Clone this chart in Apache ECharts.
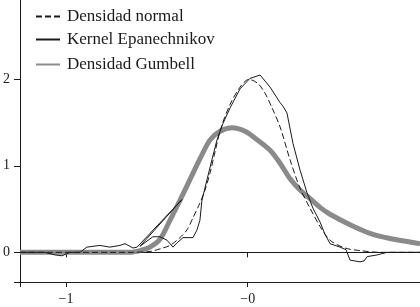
<!DOCTYPE html>
<html>
<head>
<meta charset="utf-8">
<script src="https://cdn.jsdelivr.net/npm/echarts@6/dist/echarts.min.js"></script>
<style>
  html, body { margin: 0; padding: 0; background: #fff; }
  #chart { width: 420px; height: 307px; }
</style>
</head>
<body>
<div id="chart"></div>
<script>
// values (x, density)
const normalX = [-1.253, -0.648, -0.538, -0.483, -0.428, -0.373, -0.334, -0.301, -0.263, -0.235, -0.207, -0.180, -0.147, -0.097, -0.042, 0.007, 0.057, 0.095, 0.134, 0.178, 0.233, 0.288, 0.343, 0.398, 0.453, 0.535, 0.618, 0.728, 0.948];
const normalY = [0, 0, 0.01, 0.04, 0.08, 0.17, 0.26, 0.40, 0.57, 0.72, 0.92, 1.16, 1.44, 1.71, 1.91, 2.00, 1.95, 1.84, 1.67, 1.45, 1.07, 0.74, 0.51, 0.30, 0.14, 0.05, 0.02, 0, 0];

const kernelX = [-1.253, -1.116, -1.061, -1.022, -1.000, -0.978, -0.923, -0.885, -0.813, -0.758, -0.703, -0.675, -0.631, -0.609, -0.362, -0.593, -0.522, -0.483, -0.444, -0.411, -0.389, -0.356, -0.301, -0.279, -0.263, -0.252, -0.224, -0.197, -0.169, -0.136, -0.097, -0.042, 0.012, 0.068, 0.123, 0.178, 0.194, 0.216, 0.249, 0.288, 0.326, 0.359, 0.398, 0.425, 0.453, 0.508, 0.541, 0.563, 0.618, 0.640, 0.657, 0.712, 0.767, 0.838, 0.948];
const kernelY = [0, 0, -0.03, -0.04, -0.02, 0, 0, 0.06, 0.08, 0.06, 0.08, 0.10, 0.05, 0.06, 0.61, 0.07, 0.18, 0.18, 0.14, 0.06, 0.11, 0.17, 0.17, 0.26, 0.37, 0.60, 0.84, 1.07, 1.30, 1.49, 1.67, 1.89, 2.01, 2.05, 1.91, 1.73, 1.69, 1.61, 1.26, 0.95, 0.69, 0.51, 0.35, 0.21, 0.10, 0.06, 0.03, -0.09, -0.11, -0.10, -0.05, -0.03, 0, 0, 0];

const gumbelX = [-1.253, -0.648, -0.593, -0.538, -0.483, -0.428, -0.373, -0.318, -0.263, -0.207, -0.152, -0.086, -0.015, 0.040, 0.123, 0.178, 0.233, 0.288, 0.343, 0.398, 0.453, 0.563, 0.673, 0.783, 0.893, 0.948];
const gumbelY = [0, 0, 0.02, 0.06, 0.15, 0.37, 0.60, 0.84, 1.08, 1.30, 1.40, 1.44, 1.40, 1.32, 1.18, 1.03, 0.85, 0.72, 0.62, 0.52, 0.44, 0.32, 0.22, 0.16, 0.12, 0.10];

const xTickLabels = [-1, 0];
const yTickLabels = [0, 1, 2];
const names = ['Densidad normal', 'Kernel Epanechnikov', 'Densidad Gumbell'];

const xMin = -1.253, xMax = 0.948;
const yMin = -0.343, yMax = 2.917;

const serif = 'Liberation Serif';
const ink = '#1a1a1a';
const grey = '#8a8a8a';

let myChart = echarts.init(document.getElementById('chart'));

const legendItem = (name, top) => ({
  data: [name],
  left: 35,
  top: top,
  padding: 0,
  itemWidth: 24,
  itemHeight: 14,
  selectedMode: false,
  itemStyle: { opacity: 0 },
  textStyle: { fontFamily: serif, fontSize: 17, color: ink, padding: [0, 0, 0, 2] }
});

const option = {
  animation: false,
  backgroundColor: '#fff',
  grid: { left: 20, right: 0, top: 0, bottom: 25, outerBoundsMode: 'none' },
  legend: [
    legendItem(names[0], 8),
    legendItem(names[1], 31),
    legendItem(names[2], 56)
  ],
  xAxis: [{
    type: 'value',
    min: xMin,
    max: xMax,
    position: 'bottom',
    axisLine: { onZero: false, lineStyle: { color: ink, width: 1 } },
    axisTick: { length: 5, customValues: [xMin].concat(xTickLabels), lineStyle: { color: ink } },
    axisLabel: {
      customValues: xTickLabels,
      margin: 10,
      fontFamily: serif,
      fontSize: 14,
      color: ink,
      formatter: function (v) {
        return '\u2212' + Math.abs(Math.round(v));
      }
    },
    splitLine: { show: false }
  }, {
    // zero line across the plot
    type: 'value',
    min: xMin,
    max: xMax,
    position: 'top',
    axisLine: { onZero: true, lineStyle: { color: ink, width: 1 } },
    axisTick: { inside: true, length: 5, customValues: xTickLabels, lineStyle: { color: ink } },
    axisLabel: { show: false },
    splitLine: { show: false }
  }],
  yAxis: [{
    type: 'value',
    min: yMin,
    max: yMax,
    axisLine: { onZero: false, lineStyle: { color: ink, width: 1 } },
    axisTick: { length: 6, customValues: [yMin].concat(yTickLabels), lineStyle: { color: ink } },
    axisLabel: {
      customValues: yTickLabels,
      margin: 10,
      fontFamily: serif,
      fontSize: 14,
      color: ink
    },
    splitLine: { show: false }
  }],
  series: [{
    name: names[0],
    type: 'line',
    symbol: 'none',
    smooth: 0.3,
    z: 3,
    data: normalX.map((x, i) => [x, normalY[i]]),
    lineStyle: { color: ink, width: 1, type: [6, 3] },
    itemStyle: { color: ink }
  }, {
    name: names[1],
    type: 'line',
    symbol: 'none',
    z: 4,
    data: kernelX.map((x, i) => [x, kernelY[i]]),
    lineStyle: { color: ink, width: 1 },
    itemStyle: { color: ink }
  }, {
    name: names[2],
    type: 'line',
    symbol: 'none',
    smooth: 0.3,
    z: 2,
    data: gumbelX.map((x, i) => [x, gumbelY[i]]),
    lineStyle: { color: grey, width: 5 },
    itemStyle: { color: grey }
  }]
};

myChart.setOption(option, true);
</script>
</body>
</html>
